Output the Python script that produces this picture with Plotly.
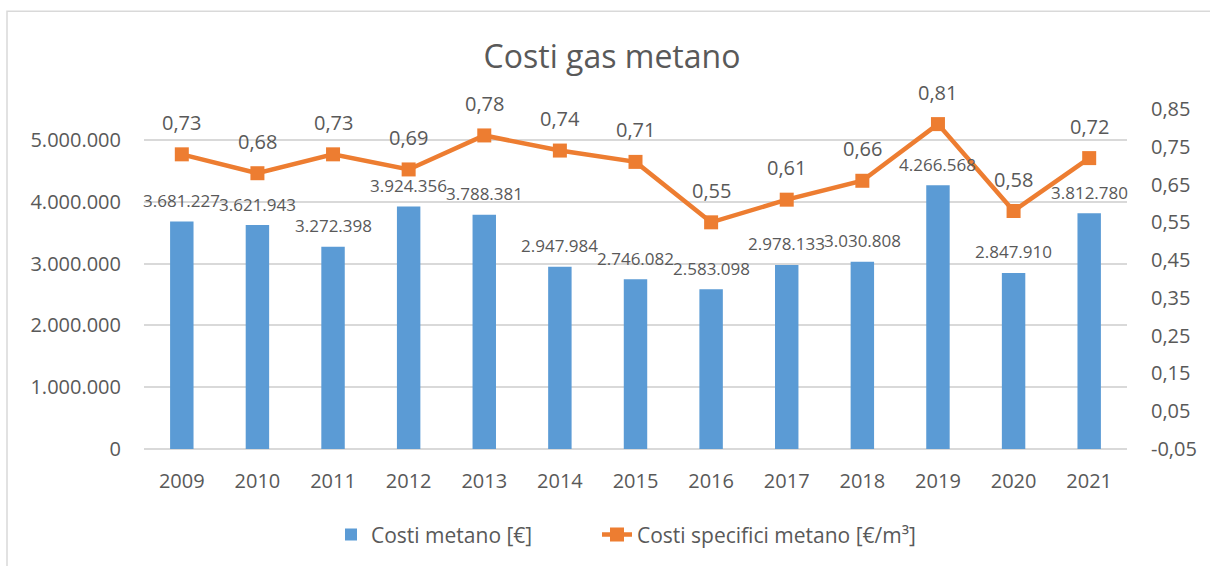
import plotly.graph_objects as go

years = ["2009", "2010", "2011", "2012", "2013", "2014", "2015", "2016", "2017", "2018", "2019", "2020", "2021"]
costi_metano = [3681227, 3621943, 3272398, 3924356, 3788381, 2947984, 2746082, 2583098, 2978133, 3030808, 4266568, 2847910, 3812780]
costi_specifici = [0.73, 0.68, 0.73, 0.69, 0.78, 0.74, 0.71, 0.55, 0.61, 0.66, 0.81, 0.58, 0.72]

left_ticks = [0, 1000000, 2000000, 3000000, 4000000, 5000000]
right_ticks = [-0.05, 0.05, 0.15, 0.25, 0.35, 0.45, 0.55, 0.65, 0.75, 0.85]

BLUE = "#5B9BD5"
ORANGE = "#ED7D31"
TXT = "#595959"
GRID = "#D9D9D9"
FONT = "Open Sans"

def it_int(v):
    return f"{v:,}".replace(",", ".")

def it_dec(v):
    return f"{v:.2f}".replace(".", ",")

fig = go.Figure()
fig.add_trace(go.Bar(
    x=years, y=costi_metano, name="Costi metano [€]",
    marker=dict(color=BLUE, line=dict(width=0)),
    yaxis="y", legend="legend",
))
fig.add_trace(go.Scatter(
    x=years, y=costi_specifici, name="Costi specifici metano [€/m³]",
    mode="lines+markers",
    line=dict(color=ORANGE, width=4.5),
    marker=dict(symbol="square", size=14, color=ORANGE),
    yaxis="y2", legend="legend2",
))

# annotations on a category axis: use the category index (numeric-looking names are read as indices)
annotations = []
for i, v in enumerate(costi_metano):
    annotations.append(dict(x=i, y=v, xref="x", yref="y", text=it_int(v), showarrow=False,
                            yshift=21, font=dict(family=FONT, size=17, color=TXT)))
for i, v in enumerate(costi_specifici):
    annotations.append(dict(x=i, y=v, xref="x", yref="y2", text=it_dec(v), showarrow=False,
                            yshift=32, font=dict(family=FONT, size=20, color=TXT)))

legend_common = dict(orientation="h", xanchor="left", y=-0.249, yanchor="middle",
                     font=dict(family=FONT, size=21, color=TXT), bgcolor="rgba(0,0,0,0)")

fig.update_layout(
    width=1210, height=566,
    margin=dict(l=144, r=83, t=109, b=116),
    paper_bgcolor="white", plot_bgcolor="white",
    font=dict(family=FONT, size=20, color=TXT),
    title=dict(text="Costi gas metano", x=612 / 1210, xref="container", xanchor="center",
               y=1 - 57 / 566, yref="container", yanchor="middle",
               font=dict(family=FONT, size=32, color=TXT)),
    bargap=0.69,
    showlegend=True,
    legend=dict(x=(331 - 144) / 983, **legend_common),
    legend2=dict(x=(597 - 144) / 983, **legend_common),
    xaxis=dict(type="category", categoryorder="array", categoryarray=years,
               range=[-0.5, len(years) - 0.5],
               showgrid=False, showline=False, ticks="", ticklabelstandoff=18,
               tickfont=dict(size=20, color=TXT)),
    yaxis=dict(range=[0, 5500000], tickvals=left_ticks, ticktext=[it_int(v) for v in left_ticks],
               showgrid=True, gridcolor=GRID, gridwidth=1.5, zeroline=True, zerolinecolor=GRID,
               zerolinewidth=1.5, showline=False, ticks="", ticklabelstandoff=22,
               tickfont=dict(size=20, color=TXT)),
    yaxis2=dict(range=[-0.05, 0.85], tickvals=right_ticks, ticktext=[it_dec(v) for v in right_ticks],
                overlaying="y", side="right", showgrid=False, zeroline=False, showline=False,
                ticks="", ticklabelstandoff=23, tickfont=dict(size=20, color=TXT)),
    annotations=annotations,
    shapes=[dict(type="rect", xref="paper", yref="paper",
                 x0=(7 - 144) / 983, x1=(1240 - 144) / 983,
                 y0=(450 - 580) / 341, y1=(450 - 11) / 341,
                 line=dict(color=GRID, width=1.5), fillcolor="rgba(0,0,0,0)", layer="below")],
)

fig.write_html("out.html", config={"displayModeBar": False},
               post_script="document.body.style.margin='0';")
